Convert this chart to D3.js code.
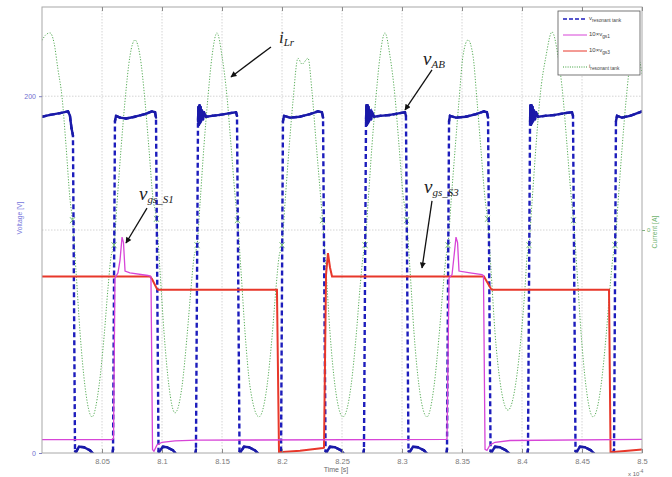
<!DOCTYPE html>
<html><head><meta charset="utf-8">
<script src="https://cdn.jsdelivr.net/npm/d3@7"></script>
<style>
html,body{margin:0;padding:0;background:#fff;}
svg{display:block;font-family:"Liberation Sans",Arial,sans-serif;}
</style></head><body>
<svg id="chart" width="672" height="477"></svg>
<script>
// ---------------- data (time in x10^-4 s) ----------------
const xTicks = [8.05, 8.1, 8.15, 8.2, 8.25, 8.3, 8.35, 8.4, 8.45, 8.5];
const xTickLabels = ["8.05","8.1","8.15","8.2","8.25","8.3","8.35","8.4","8.45","8.5"];
const voltTicks = [0, 200];
const voltTickLabels = ["0","200"];
const currTicks = [0];
const currTickLabels = ["0"];

// v resonant tank (v_AB), volts
const vTankT = [8.0000,8.0067,8.0150,8.0217,8.0233,8.0246,8.0258,8.0275,8.0283,8.0308,8.0350,8.0400,8.0450,8.0583,8.0592,8.0608,8.0617,8.0650,8.0700,8.0775,8.0858,8.0917,8.0942,8.0950,8.0971,8.0975,8.1008,8.1042,8.1092,8.1133,8.1275,8.1283,8.1300,8.1304,8.1308,8.1313,8.1317,8.1321,8.1325,8.1333,8.1342,8.1350,8.1367,8.1417,8.1483,8.1567,8.1617,8.1625,8.1646,8.1654,8.1683,8.1725,8.1775,8.1825,8.1983,8.1992,8.2008,8.2017,8.2067,8.2150,8.2233,8.2300,8.2333,8.2342,8.2363,8.2371,8.2400,8.2442,8.2492,8.2533,8.2675,8.2683,8.2700,8.2704,8.2708,8.2713,8.2717,8.2721,8.2725,8.2733,8.2742,8.2750,8.2767,8.2817,8.2900,8.2983,8.3025,8.3033,8.3054,8.3063,8.3092,8.3133,8.3183,8.3233,8.3367,8.3375,8.3392,8.3400,8.3450,8.3533,8.3617,8.3683,8.3708,8.3717,8.3738,8.3746,8.3775,8.3817,8.3867,8.3917,8.4042,8.4050,8.4067,8.4071,8.4075,8.4079,8.4083,8.4088,8.4092,8.4100,8.4108,8.4117,8.4133,8.4192,8.4275,8.4358,8.4417,8.4425,8.4446,8.4454,8.4483,8.4525,8.4575,8.4625,8.4758,8.4767,8.4783,8.4792,8.4833,8.4900,8.5000];
const vTankV = [188.5,189.5,190.5,191.5,189,182,178,1,0.5,3.5,3.2,1.5,-2,-2,2,186,189,188,187.5,188.5,190,191.5,191,188,1,0.5,3.5,3.2,1.5,-2,-2,2,186,194,184,195,185,194,186,192,187,191,188.5,189,189.5,190.5,191,189,1,0.5,3.5,3.2,1.5,-2,-2,2,186,189,188,188.5,190,191.5,191,188,1,0.5,3.5,3.2,1.5,-2,-2,2,186,195,184,195,185,194,186,192,187,191,188.5,189,189.5,190.5,191,189,1,0.5,3.5,3.2,1.5,-2,-2,2,186,189,188,188.5,190,191.5,191,188,1,0.5,3.5,3.2,1.5,-2,-2,2,186,195,184,195,185,194,186,192,187,191,188.5,189,189.5,190.5,191,189,1,0.5,3.5,3.2,1.5,-2,-2,2,186,189,188,189,191.5];

// i resonant tank (i_Lr), amps
const iTankT = [8.0000,8.0033,8.0067,8.0100,8.0133,8.0167,8.0200,8.0233,8.0254,8.0283,8.0317,8.0358,8.0417,8.0475,8.0517,8.0550,8.0575,8.0600,8.0625,8.0658,8.0692,8.0733,8.0775,8.0817,8.0858,8.0892,8.0925,8.0954,8.0983,8.1017,8.1058,8.1108,8.1167,8.1208,8.1242,8.1267,8.1292,8.1317,8.1350,8.1383,8.1417,8.1458,8.1500,8.1542,8.1575,8.1608,8.1629,8.1658,8.1692,8.1733,8.1808,8.1875,8.1917,8.1950,8.1975,8.2000,8.2025,8.2058,8.2092,8.2133,8.2167,8.2217,8.2250,8.2283,8.2317,8.2338,8.2367,8.2400,8.2442,8.2508,8.2575,8.2617,8.2650,8.2675,8.2692,8.2717,8.2750,8.2783,8.2817,8.2858,8.2900,8.2942,8.2975,8.3008,8.3038,8.3067,8.3100,8.3142,8.3208,8.3267,8.3308,8.3342,8.3367,8.3383,8.3408,8.3442,8.3475,8.3508,8.3550,8.3592,8.3625,8.3658,8.3692,8.3713,8.3742,8.3775,8.3817,8.3883,8.3950,8.3992,8.4025,8.4042,8.4058,8.4083,8.4117,8.4150,8.4200,8.4250,8.4300,8.4342,8.4375,8.4408,8.4429,8.4458,8.4492,8.4533,8.4592,8.4658,8.4700,8.4733,8.4758,8.4775,8.4800,8.4833,8.4867,8.4908,8.4950,8.4983,8.5000];
const iTankA = [4.25,4.38,4.42,4.2,3.6,2.98,1.9,0.7,0.22,-0.9,-2.3,-3.5,-4.19,-3.5,-2.4,-1.3,-0.6,-0.34,0.6,1.8,2.9,3.9,4.26,3.9,2.9,1.8,0.7,0.25,-0.9,-2.3,-3.5,-4.1,-3.5,-2.4,-1.3,-0.6,-0.34,0.6,1.9,2.98,3.9,4.42,3.9,2.98,1.9,0.8,0.22,-0.9,-2.3,-3.5,-4.19,-3.5,-2.4,-1.3,-0.6,-0.34,0.6,1.8,2.9,3.85,3.72,3.85,3.1,2.0,0.9,0.22,-0.9,-2.3,-3.5,-4.19,-3.5,-2.4,-1.3,-0.6,-0.34,0.6,1.9,2.98,3.9,4.42,3.9,2.98,1.9,0.8,0.22,-0.9,-2.3,-3.5,-4.19,-3.5,-2.4,-1.3,-0.6,-0.34,0.6,1.8,2.9,3.9,4.26,3.9,2.9,1.8,0.7,0.25,-0.9,-2.3,-3.4,-4.04,-3.4,-2.4,-1.3,-0.6,-0.34,0.6,1.9,2.98,3.9,4.44,3.9,2.98,1.9,0.8,0.22,-0.9,-2.3,-3.5,-4.19,-3.5,-2.4,-1.3,-0.6,-0.34,0.6,1.8,2.9,3.8,3.9,3.75,3.5];

// 10 x v_gs1, volts
const gs1T = [8.0000,8.0583,8.0596,8.0608,8.0633,8.0650,8.0667,8.0679,8.0692,8.0733,8.0883,8.0908,8.0921,8.0933,8.0958,8.1000,8.1108,8.1292,8.3367,8.3375,8.3392,8.3417,8.3433,8.3450,8.3463,8.3475,8.3567,8.3667,8.3679,8.3692,8.3708,8.3733,8.3775,8.3900,8.5000];
const gs1V = [7.5,7.5,8,98,101,108,121,118,102,101,99.5,99,2,1,4.5,6,6.8,7.2,7.6,8,98,100,110,121,118,102,101,100,99.5,2,1.5,4.5,6,7,7.6];

// 10 x v_gs3, volts
const gs3T = [8.0000,8.0900,8.0917,8.0958,8.0967,8.1958,8.1975,8.2150,8.2342,8.2350,8.2367,8.2383,8.2400,8.2417,8.3683,8.3742,8.3750,8.4725,8.4738,8.5000];
const gs3V = [99,99,97.5,92,91.5,91.5,0.4,1.3,2.8,3,100,112,104,99,99,92,91.5,91.5,0.4,2];

const legendMain = ["v","10\u00d7v","10\u00d7v","i"];
const legendSub = ["resonant tank","gs1","gs3","resonant tank"];

// annotations (data coordinates on the voltage axis)
const annoMain = ["i","v","v","v"];
const annoSub = ["Lr","AB","gs_S1","gs_S3"];
const annoT = [8.1975, 8.3175, 8.0808, 8.3183];
const annoV = [229.8, 217.5, 141.8, 145.7];
const arrowFromT = [8.1908, 8.3250, 8.0875, 8.3250];
const arrowFromV = [227.6, 214.7, 137.3, 141.3];
const arrowToT = [8.1575, 8.3025, 8.0700, 8.3167];
const arrowToV = [210.8, 192.3, 117.7, 103.7];

// ---------------- drawing ----------------
const L=42, R=642, T=7, B=453;
const svg = d3.select("#chart");
const x = d3.scaleLinear().domain([8.0, 8.5]).range([L, R]);
const yV = d3.scaleLinear().domain([0, 250]).range([B, T]);
const yI = d3.scaleLinear().domain([-5, 5]).range([B, T]);
const zip = (a,b) => a.map((d,i) => [d, b[i]]);

svg.append("defs").append("clipPath").attr("id","clip")
  .append("rect").attr("x",L).attr("y",T).attr("width",R-L).attr("height",B-T);
const defs = svg.select("defs");
defs.append("marker").attr("id","arrow").attr("viewBox","0 0 10 10")
  .attr("refX",9).attr("refY",5).attr("markerWidth",7).attr("markerHeight",6)
  .attr("markerUnits","userSpaceOnUse").attr("orient","auto")
  .append("path").attr("d","M0,0 L10,5 L0,10 Z").attr("fill","#111");

// grid
const grid = svg.append("g");
grid.selectAll("line.gx").data(xTicks.filter(d => d < 8.5)).enter().append("line")
  .attr("x1", d => x(d)).attr("x2", d => x(d)).attr("y1", T).attr("y2", B)
  .attr("stroke","#c9c9c9").attr("stroke-width",0.8).attr("stroke-dasharray","1.5,1.5");
grid.append("line").attr("x1",L).attr("x2",R).attr("y1",yV(200)).attr("y2",yV(200))
  .attr("stroke","#c9c9c9").attr("stroke-width",0.8).attr("stroke-dasharray","1.5,1.5");
grid.append("line").attr("x1",L).attr("x2",R).attr("y1",yI(0)).attr("y2",yI(0))
  .attr("stroke","#c9c9c9").attr("stroke-width",0.8).attr("stroke-dasharray","1.5,1.5");

const plot = svg.append("g").attr("clip-path","url(#clip)");

// current (green dotted)
const iData = zip(iTankT, iTankA);
plot.append("path").datum(iData)
  .attr("d", d3.line().x(d => x(d[0])).y(d => yI(d[1])).curve(d3.curveMonotoneX))
  .attr("fill","none").attr("stroke","#3a9e3a").attr("stroke-width",1)
  .attr("stroke-dasharray","1.2,1.6").attr("opacity",0.85);
const marks = iData.filter(d => Math.abs(d[1]) < 0.4);
plot.selectAll("path.mk").data(marks).enter().append("path")
  .attr("d", d => { const cx = x(d[0]), cy = yI(d[1]); return `M${cx-2.5},${cy-3}L${cx+2.5},${cy+3}M${cx-2.5},${cy+3}L${cx+2.5},${cy-3}`; })
  .attr("stroke","#55b055").attr("stroke-width",0.8).attr("fill","none");

// v resonant tank (blue dashed)
const vData = zip(vTankT, vTankV);
const lineV = d3.line().x(d => x(d[0])).y(d => yV(d[1]));
plot.append("path").datum(vData).attr("d", lineV)
  .attr("fill","none").attr("stroke","#1c1cbc").attr("stroke-width",2.4)
  .attr("stroke-dasharray","5,3");
const flat = [];
for (let k = 1; k < vData.length; k++) {
  const a = vData[k-1], b = vData[k];
  if ((a[1] > 150 && b[1] > 150) || (a[1] < 10 && b[1] < 10)) flat.push([a, b]);
}
plot.selectAll("path.flat").data(flat).enter().append("path")
  .attr("d", lineV).attr("fill","none").attr("stroke","#1a1aa8").attr("stroke-width",2.4)
  .attr("stroke-linecap","round");

// gate signals
plot.append("path").datum(zip(gs3T, gs3V)).attr("d", lineV)
  .attr("fill","none").attr("stroke","#e8372a").attr("stroke-width",2);
plot.append("path").datum(zip(gs1T, gs1V)).attr("d", lineV)
  .attr("fill","none").attr("stroke","#d745d7").attr("stroke-width",1.3);

// frame
svg.append("rect").attr("x",L).attr("y",T).attr("width",R-L).attr("height",B-T)
  .attr("fill","none").attr("stroke","#a8a8a8").attr("stroke-width",1);

// axes
const ax = svg.append("g").attr("transform",`translate(0,${B})`)
  .call(d3.axisBottom(x).tickValues(xTicks).tickFormat((d,i) => xTickLabels[i]).tickSizeInner(-4).tickSizeOuter(0).tickPadding(6));
ax.select(".domain").remove();
ax.selectAll("line").attr("stroke","#8a8a8a");
ax.selectAll("text").attr("fill","#7a7a7a").attr("font-size","7.5px").attr("font-family","Liberation Sans, Arial, sans-serif");

const axt = svg.append("g").attr("transform",`translate(0,${T})`)
  .call(d3.axisTop(x).tickValues(xTicks).tickFormat("").tickSizeInner(-4).tickSizeOuter(0));
axt.select(".domain").remove();
axt.selectAll("line").attr("stroke","#8a8a8a");

const ayl = svg.append("g").attr("transform",`translate(${L},0)`)
  .call(d3.axisLeft(yV).tickValues(voltTicks).tickFormat((d,i) => voltTickLabels[i]).tickSizeInner(3).tickSizeOuter(0).tickPadding(3));
ayl.select(".domain").remove();
ayl.selectAll("line").attr("stroke","#8080c0");
ayl.selectAll("text").attr("fill","#6e6ed0").attr("font-size","7px").attr("font-family","Liberation Sans, Arial, sans-serif");

const ayr = svg.append("g").attr("transform",`translate(${R},0)`)
  .call(d3.axisRight(yI).tickValues(currTicks).tickFormat((d,i) => currTickLabels[i]).tickSizeInner(3).tickSizeOuter(0).tickPadding(2));
ayr.select(".domain").remove();
ayr.selectAll("line").attr("stroke","#80b080");
ayr.selectAll("text").attr("fill","#6aaa6a").attr("font-size","6px").attr("font-family","Liberation Sans, Arial, sans-serif");

// axis titles
svg.append("text").attr("transform","translate(22,218) rotate(-90)").attr("text-anchor","middle")
  .attr("font-size","6.8px").attr("fill","#7676dc").text("Voltage [V]");
svg.append("text").attr("transform","translate(657,232) rotate(-90)").attr("text-anchor","middle")
  .attr("font-size","6.8px").attr("fill","#6fb46f").text("Current [A]");
svg.append("text").attr("x",336).attr("y",472).attr("text-anchor","middle")
  .attr("font-size","7px").attr("fill","#6a6a6a").text("Time [s]");
const ex = svg.append("text").attr("x",628).attr("y",476).attr("font-size","6px").attr("fill","#6a6a6a");
ex.append("tspan").text("x 10");
ex.append("tspan").attr("dy",-3).attr("font-size","4.5px").text("-4");

// legend
const lg = svg.append("g");
lg.append("rect").attr("x",558).attr("y",11).attr("width",82).attr("height",64)
  .attr("fill","#fff").attr("stroke","#555").attr("stroke-width",0.8);
const legStyles = [
  {c:"#1c1cbc", w:1.6, dash:"4,2"},
  {c:"#d745d7", w:1, dash:null},
  {c:"#e8372a", w:1, dash:null},
  {c:"#3a9e3a", w:1, dash:"1,1.3"}
];
legendMain.forEach((m,i) => {
  const yy = 19 + i*16;
  const ln = lg.append("line").attr("x1",563).attr("x2",587).attr("y1",yy).attr("y2",yy)
    .attr("stroke",legStyles[i].c).attr("stroke-width",legStyles[i].w);
  if (legStyles[i].dash) ln.attr("stroke-dasharray",legStyles[i].dash);
  const t = lg.append("text").attr("x",589).attr("y",yy+1).attr("font-size","6px").attr("fill","#444");
  t.append("tspan").text(m);
  t.append("tspan").attr("dy",2).attr("font-size","4.8px").text(legendSub[i]);
});

// annotations
const an = svg.append("g");
annoMain.forEach((m,i) => {
  an.append("line").attr("x1",x(arrowFromT[i])).attr("y1",yV(arrowFromV[i]))
    .attr("x2",x(arrowToT[i])).attr("y2",yV(arrowToV[i]))
    .attr("stroke","#111").attr("stroke-width",1.3).attr("marker-end","url(#arrow)");
  const t = an.append("text").attr("x",x(annoT[i])).attr("y",yV(annoV[i]))
    .attr("font-family","'Liberation Serif','Times New Roman',serif").attr("font-style","italic").attr("fill","#222");
  t.append("tspan").attr("font-size", m === "i" ? "17px" : "19px").text(m);
  t.append("tspan").attr("font-size","11px").attr("dy",3).text(annoSub[i]);
});
</script>
</body></html>
